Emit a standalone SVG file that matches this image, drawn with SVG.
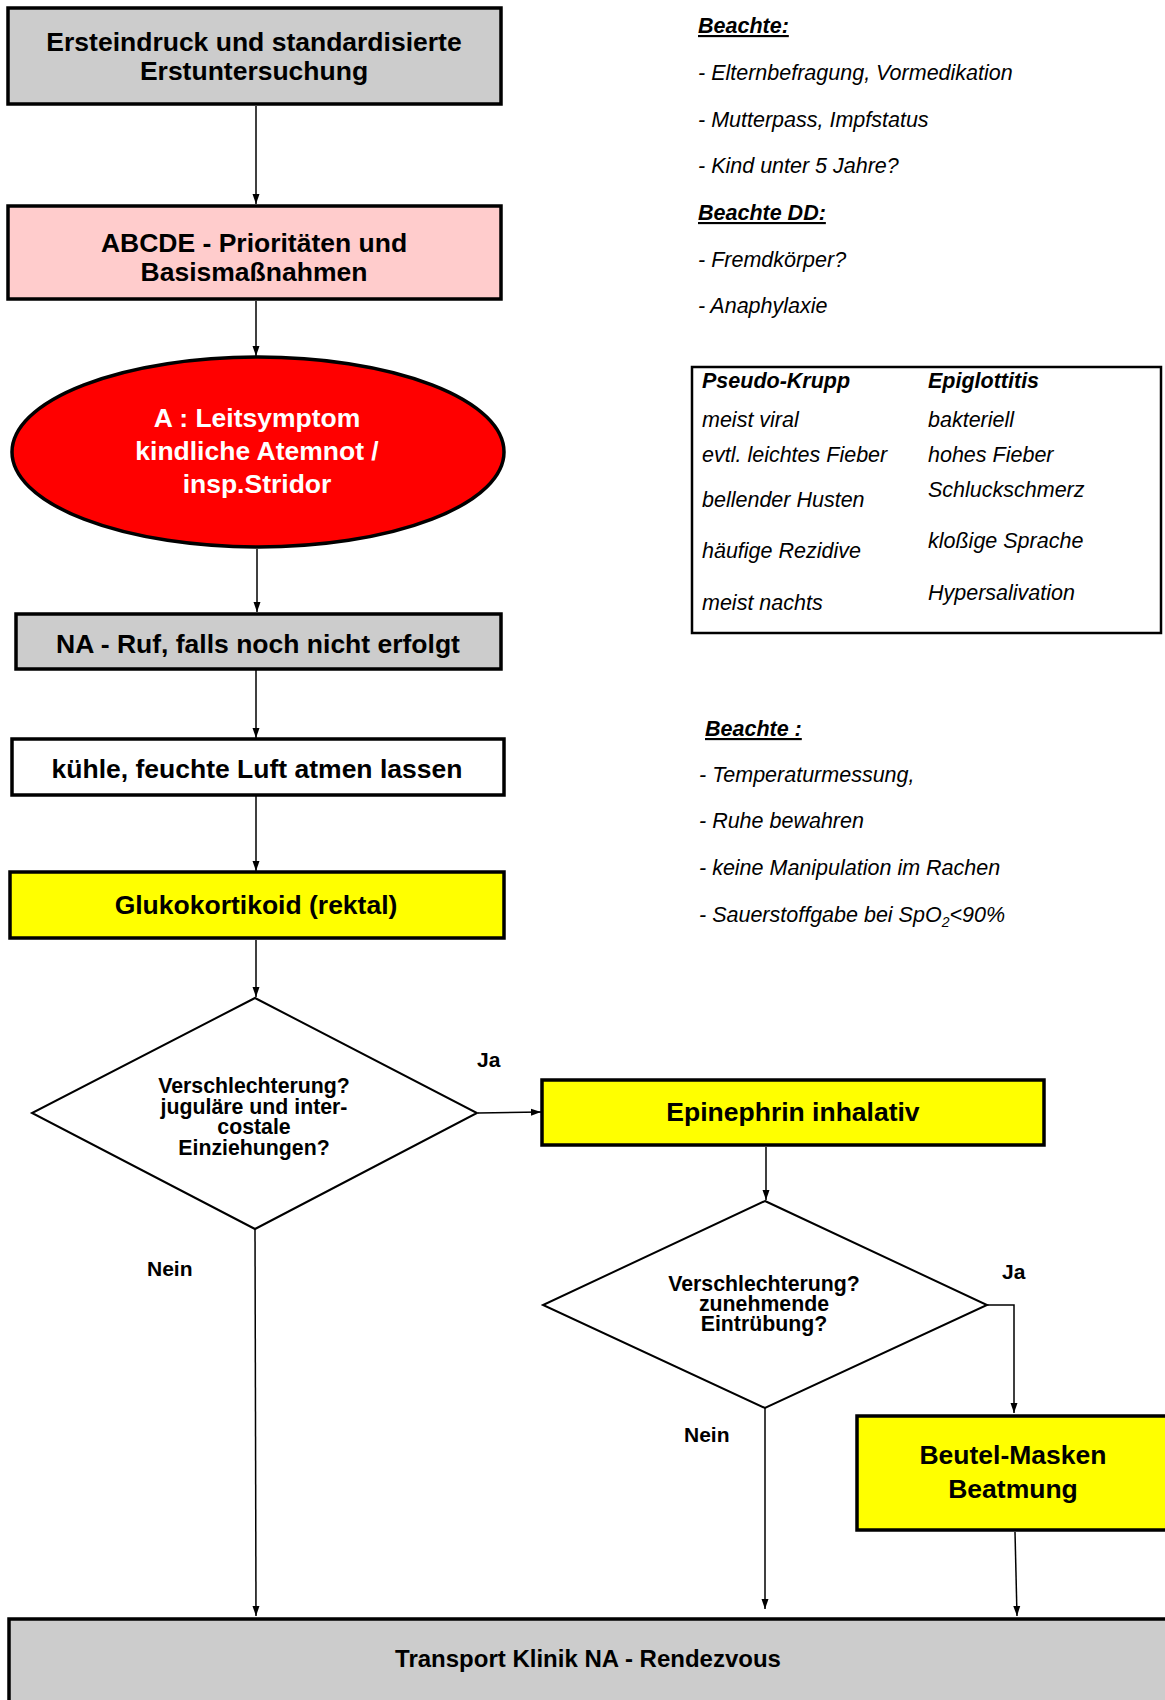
<svg xmlns="http://www.w3.org/2000/svg" width="1165" height="1700" viewBox="0 0 1165 1700">
<defs>
<marker id="arr" markerUnits="userSpaceOnUse" markerWidth="10" markerHeight="10" viewBox="0 0 10 10" refX="10" refY="5" orient="auto">
<path d="M0,1.5 L10,5 L0,8.5 Z" fill="#000"/>
</marker>
</defs>
<style>
.box{stroke:#000;stroke-width:3.5}
.grey{fill:#cccccc}
.pink{fill:#ffcccc}
.white{fill:#ffffff}
.yellow{fill:#ffff00}
.dia{fill:#fff;stroke:#000;stroke-width:2}
.t{font-family:"Liberation Sans",Arial,sans-serif;font-weight:bold;font-size:26.5px;text-anchor:middle;fill:#000}
.tw{fill:#fff}
.dt{font-family:"Liberation Sans",Arial,sans-serif;font-weight:bold;font-size:21.3px;text-anchor:middle;fill:#000}
.lbl{font-family:"Liberation Sans",Arial,sans-serif;font-weight:bold;font-size:21px;fill:#000}
.n{font-family:"Liberation Sans",Arial,sans-serif;font-style:italic;font-size:21.5px;fill:#000}
.nb{font-weight:bold;text-decoration:underline}
.c{fill:none;stroke:#000;stroke-width:1.5}
</style>
<rect width="1165" height="1700" fill="#fff"/>

<g id="connectors">
<line class="c" x1="256" y1="106" x2="256" y2="204" marker-end="url(#arr)"/>
<line class="c" x1="256" y1="301" x2="256" y2="356" marker-end="url(#arr)"/>
<line class="c" x1="257" y1="549" x2="257" y2="612" marker-end="url(#arr)"/>
<line class="c" x1="256" y1="670" x2="256" y2="738" marker-end="url(#arr)"/>
<line class="c" x1="256" y1="796" x2="256" y2="871" marker-end="url(#arr)"/>
<line class="c" x1="256" y1="940" x2="256" y2="997" marker-end="url(#arr)"/>
<line class="c" x1="478" y1="1113" x2="541" y2="1112" marker-end="url(#arr)"/>
<line class="c" x1="766" y1="1147" x2="766" y2="1200" marker-end="url(#arr)"/>
<polyline class="c" points="987,1305 1014,1305 1014,1413" marker-end="url(#arr)"/>
<line class="c" x1="255" y1="1229" x2="256" y2="1616" marker-end="url(#arr)"/>
<line class="c" x1="765" y1="1408" x2="765" y2="1609" marker-end="url(#arr)"/>
<line class="c" x1="1015" y1="1532" x2="1017" y2="1616" marker-end="url(#arr)"/>
</g>

<g id="n1">
<rect class="box grey" x="8" y="8" width="493" height="96"/>
<text class="t" x="254" y="51">Ersteindruck und standardisierte</text>
<text class="t" x="254" y="80">Erstuntersuchung</text>
</g>

<g id="n2">
<rect class="box pink" x="8" y="206" width="493" height="93"/>
<text class="t" x="254" y="252">ABCDE - Prioritäten und</text>
<text class="t" x="254" y="281">Basismaßnahmen</text>
</g>

<g id="n3">
<ellipse cx="258" cy="452" rx="246" ry="95" fill="#ff0000" stroke="#000" stroke-width="3.5"/>
<text class="t tw" x="257" y="427">A : Leitsymptom</text>
<text class="t tw" x="257" y="460">kindliche Atemnot /</text>
<text class="t tw" x="257" y="493">insp.Stridor</text>
</g>

<g id="n4">
<rect class="box grey" x="16" y="614" width="485" height="55" stroke-width="2.5"/>
<text class="t" x="258" y="653">NA - Ruf, falls noch nicht erfolgt</text>
</g>

<g id="n5">
<rect class="box white" x="12" y="739" width="492" height="56"/>
<text class="t" x="257" y="778">kühle, feuchte Luft atmen lassen</text>
</g>

<g id="n6">
<rect class="box yellow" x="10" y="872" width="494" height="66"/>
<text class="t" x="256" y="914">Glukokortikoid (rektal)</text>
</g>

<g id="n7">
<polygon class="dia" points="255,998 477,1113 255,1229 32,1113"/>
<text class="dt" x="254" y="1093">Verschlechterung?</text>
<text class="dt" x="254" y="1114">juguläre und inter-</text>
<text class="dt" x="254" y="1134">costale</text>
<text class="dt" x="254" y="1155">Einziehungen?</text>
</g>

<g id="n8">
<rect class="box yellow" x="542" y="1080" width="502" height="65" stroke-width="4"/>
<text class="t" x="793" y="1121">Epinephrin inhalativ</text>
</g>

<g id="n9">
<polygon class="dia" points="765,1201 987,1305 765,1408 543,1305"/>
<text class="dt" x="764" y="1291">Verschlechterung?</text>
<text class="dt" x="764" y="1311">zunehmende</text>
<text class="dt" x="764" y="1331">Eintrübung?</text>
</g>

<g id="n10">
<rect class="box yellow" x="857" y="1416" width="315" height="114" stroke-width="4"/>
<text class="t" x="1013" y="1464">Beutel-Masken</text>
<text class="t" x="1013" y="1498">Beatmung</text>
</g>

<g id="n11">
<rect class="box grey" x="9" y="1619" width="1165" height="100"/>
<text class="t" x="588" y="1667" style="font-size:24px">Transport Klinik NA - Rendezvous</text>
</g>

<g id="labels">
<text class="lbl" x="477" y="1067">Ja</text>
<text class="lbl" x="147" y="1276">Nein</text>
<text class="lbl" x="1002" y="1279">Ja</text>
<text class="lbl" x="684" y="1442">Nein</text>
</g>

<g id="notes1">
<text class="n nb" x="698" y="33">Beachte:</text>
<text class="n" x="698" y="80">- Elternbefragung, Vormedikation</text>
<text class="n" x="698" y="127">- Mutterpass, Impfstatus</text>
<text class="n" x="698" y="173">- Kind unter 5 Jahre?</text>
<text class="n nb" x="698" y="220">Beachte DD:</text>
<text class="n" x="698" y="267">- Fremdkörper?</text>
<text class="n" x="698" y="313">- Anaphylaxie</text>
</g>

<g id="table">
<rect x="692" y="367" width="469" height="266" fill="none" stroke="#000" stroke-width="2.5"/>
<text class="n" x="702" y="388" font-weight="bold">Pseudo-Krupp</text>
<text class="n" x="702" y="427">meist viral</text>
<text class="n" x="702" y="462">evtl. leichtes Fieber</text>
<text class="n" x="702" y="507">bellender Husten</text>
<text class="n" x="702" y="558">häufige Rezidive</text>
<text class="n" x="702" y="610">meist nachts</text>
<text class="n" x="928" y="388" font-weight="bold">Epiglottitis</text>
<text class="n" x="928" y="427">bakteriell</text>
<text class="n" x="928" y="462">hohes Fieber</text>
<text class="n" x="928" y="497">Schluckschmerz</text>
<text class="n" x="928" y="548">kloßige Sprache</text>
<text class="n" x="928" y="600">Hypersalivation</text>
</g>

<g id="notes2">
<text class="n nb" x="705" y="736">Beachte :</text>
<text class="n" x="699" y="782">- Temperaturmessung,</text>
<text class="n" x="699" y="828">- Ruhe bewahren</text>
<text class="n" x="699" y="875">- keine Manipulation im Rachen</text>
<text class="n" x="699" y="922">- Sauerstoffgabe bei SpO<tspan font-size="14" dy="5">2</tspan><tspan dy="-5">&lt;90%</tspan></text>
</g>
</svg>
